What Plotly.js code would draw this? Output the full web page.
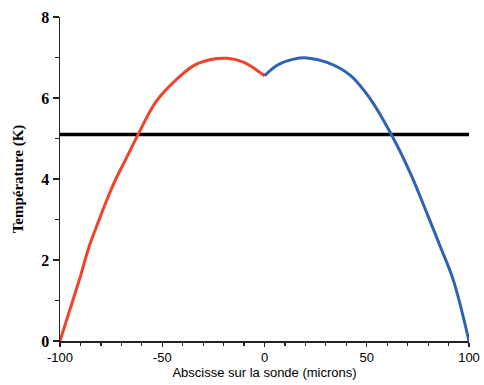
<!DOCTYPE html>
<html><head><meta charset="utf-8">
<script src="https://cdn.plot.ly/plotly-3.0.1.min.js"></script>
<style>body{margin:0;background:#fff}#c{width:484px;height:385px}</style>
</head><body><div id="c"></div>
<script>
const redX = [-100,-95,-90,-85.7,-80.8,-77.6,-72.7,-67.8,-61.3,-53.2,-43.4,-34.6,-26.3,-18.2,-10,-3.6,0];
const redY = [0,0.8,1.6,2.34,3.0,3.42,4.0,4.49,5.15,5.9,6.44,6.8,6.95,6.98,6.88,6.68,6.55];
const blueX = [0,6.2,14.3,20.8,30.6,42,51.7,61.5,71.2,79.3,85.9,92.3,100];
const blueY = [6.55,6.81,6.96,6.99,6.88,6.56,5.98,5.15,4.16,3.17,2.34,1.51,0];
const levelX = [-100,100];
const levelY = [5.1,5.1];
const xTickVals = [-100,-50,0,50,100];
const xTickText = ['-100','-50','0','50','100'];
const yTickVals = [0,2,4,6,8];
const yTickText = ['0','2','4','6','8'];

const traces = [
  {x: levelX, y: levelY, mode:'lines', line:{color:'#000', width:3.5}, hoverinfo:'skip'},
  {x: redX, y: redY, mode:'lines', line:{color:'#F0432A', width:3, shape:'spline', smoothing:1}},
  {x: blueX, y: blueY, mode:'lines', line:{color:'#2F62B5', width:3, shape:'spline', smoothing:1}}
];
const layout = {
  width:484, height:385,
  margin:{l:60, r:15, t:17, b:44},
  showlegend:false,
  paper_bgcolor:'#fff', plot_bgcolor:'#fff',
  xaxis:{range:[-100,100], showgrid:false, zeroline:false, showline:true, linecolor:'#222', linewidth:1.5,
    ticks:'outside', ticklen:4, tickwidth:1.2, tickcolor:'#222', tickmode:'array', tickvals:xTickVals, ticktext:xTickText,
    minor:{dtick:10, tick0:0, ticks:'outside', ticklen:3, tickcolor:'#222', showgrid:false},
    tickfont:{family:'Liberation Sans, Arial', size:13, color:'#000'},
    title:{text:'Abscisse sur la sonde (microns)', font:{family:'Liberation Sans, Arial', size:13, color:'#000'}, standoff:4}},
  yaxis:{range:[0,8], showgrid:false, zeroline:false, showline:true, linecolor:'#222', linewidth:1.5,
    ticks:'outside', ticklen:6, tickwidth:1.2, tickcolor:'#222', tickmode:'array', tickvals:yTickVals, ticktext:yTickText,
    minor:{dtick:1, tick0:0, ticks:'outside', ticklen:4, tickcolor:'#222', showgrid:false},
    tickfont:{family:'Liberation Serif, Times New Roman, serif', size:16, color:'#000', weight:700},
    title:{text:'Température (K)', font:{family:'Liberation Serif, Times New Roman, serif', size:15, color:'#000', weight:700}, standoff:14}}
};
Plotly.newPlot('c', traces, layout, {staticPlot:true});
</script></body></html>
